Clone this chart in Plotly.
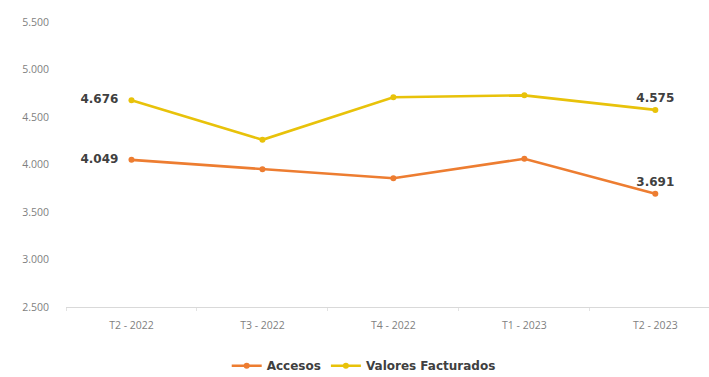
import plotly.graph_objects as go

# Quarterly series
quarters = ["T2 - 2022", "T3 - 2022", "T4 - 2022", "T1 - 2023", "T2 - 2023"]
accesos = [4049, 3950, 3855, 4060, 3691]
valores_facturados = [4676, 4260, 4708, 4728, 4575]

# Only the first and last points carry a value label; the first sits left of its point
def end_labels(values):
    out = []
    for i, v in enumerate(values):
        s = f"{v:,}".replace(",", ".")
        if i == 0:
            out.append(s + "\u00a0\u00a0")
        elif i == len(values) - 1:
            out.append(s)
        else:
            out.append("")
    return out

ORANGE = "#ED7D31"
YELLOW = "#E8C20A"
label_font = dict(family="DejaVu Sans", size=12, color="#404040", weight="bold")
positions = ["middle left", "top center", "top center", "top center", "top center"]

fig = go.Figure()

fig.add_trace(go.Scatter(
    x=quarters, y=accesos, name="Accesos",
    mode="lines+markers+text",
    line=dict(color=ORANGE, width=2.6),
    marker=dict(color=ORANGE, size=6),
    text=end_labels(accesos),
    textposition=positions,
    textfont=label_font,
    cliponaxis=False,
))

fig.add_trace(go.Scatter(
    x=quarters, y=valores_facturados, name="Valores Facturados",
    mode="lines+markers+text",
    line=dict(color=YELLOW, width=2.6),
    marker=dict(color=YELLOW, size=6),
    text=end_labels(valores_facturados),
    textposition=positions,
    textfont=label_font,
    cliponaxis=False,
))

fig.update_layout(
    width=709, height=377,
    margin=dict(l=66, r=0, t=22, b=70),
    paper_bgcolor="white", plot_bgcolor="white",
    separators=",.",
    showlegend=True,
    legend=dict(
        orientation="h", xref="container", yref="container",
        x=0.513, xanchor="center", y=0.03, yanchor="middle",
        font=dict(family="DejaVu Sans", size=12, color="#404040", weight="bold"),
        itemwidth=30, tracegroupgap=0,
    ),
    xaxis=dict(
        type="category", range=[-0.5, 4.41],
        showgrid=False, showline=True, linecolor="#D9D9D9", linewidth=1,
        ticks="outside", tickson="boundaries", ticklen=3, tickcolor="#E3E3E3",
        ticklabelstandoff=8,
        tickfont=dict(family="Open Sans", size=10.5, color="#7F7F7F"),
        fixedrange=True,
    ),
    yaxis=dict(
        range=[2500, 5500], dtick=500, tickformat=",",
        showgrid=False, showline=False, zeroline=False,
        ticklabelstandoff=16,
        tickfont=dict(family="Open Sans", size=10.5, color="#7F7F7F"),
        fixedrange=True,
    ),
)

fig.write_html("out.html")
